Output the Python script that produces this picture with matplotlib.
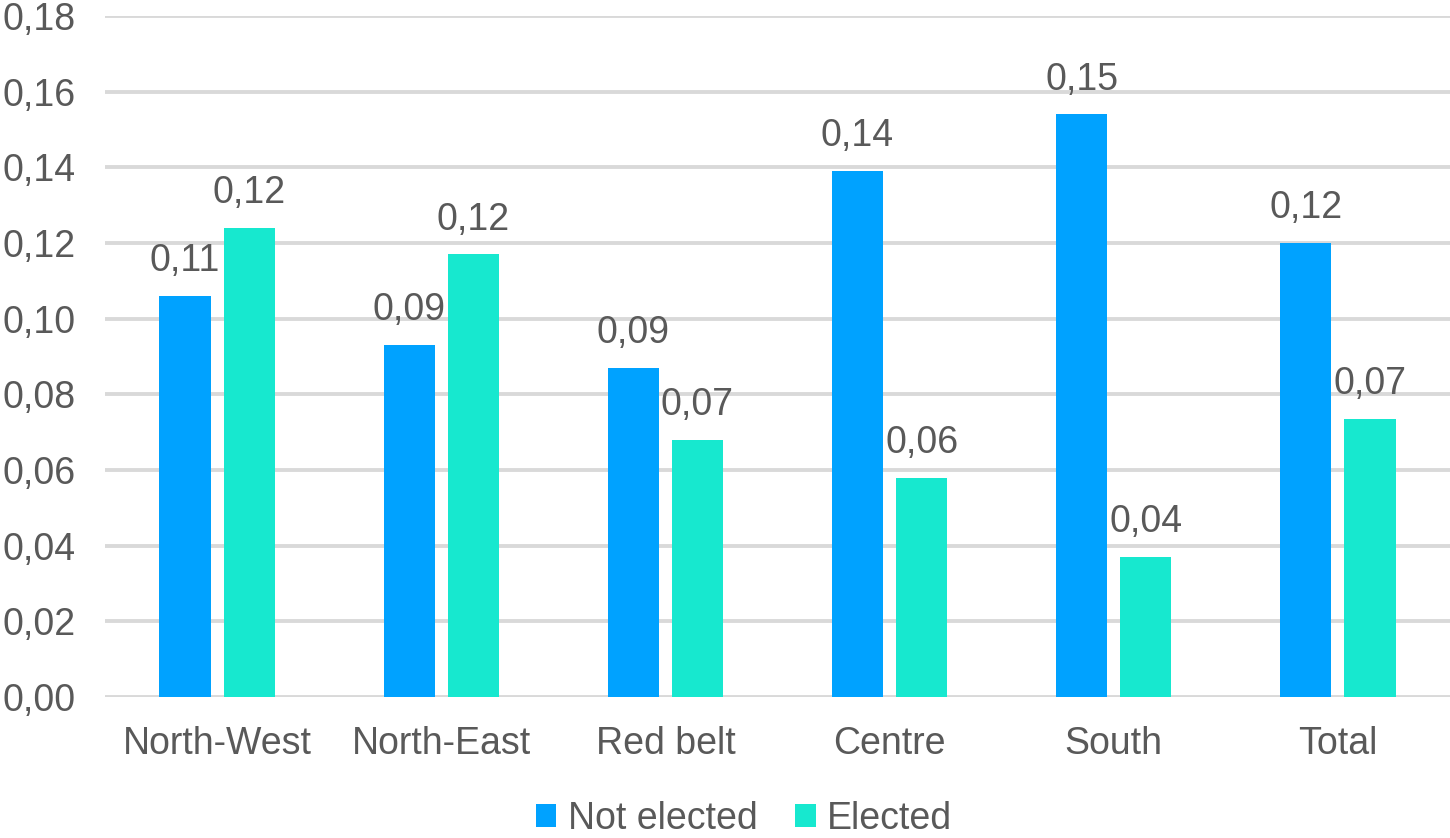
import numpy as np
import matplotlib.pyplot as plt

regions = ['North-West', 'North-East', 'Red belt', 'Centre', 'South', 'Total']
not_elected = [0.106, 0.093, 0.087, 0.139, 0.154, 0.120]
elected = [0.124, 0.117, 0.068, 0.058, 0.037, 0.0735]
yticks = [0.00, 0.02, 0.04, 0.06, 0.08, 0.10, 0.12, 0.14, 0.16, 0.18]

blue = '#00A2FF'
teal = '#17E8CF'
grey_text = '#595959'

plt.rcParams['font.family'] = ['Liberation Sans', 'DejaVu Sans']

fig = plt.figure(figsize=(14.5, 8.38), dpi=100)
ax = fig.add_axes([105 / 1450, 1 - 697 / 838, 1 - 105 / 1450, (697 - 16) / 838])

x = np.arange(len(regions))
w = 0.228
off = 0.143
b1 = ax.bar(x - off, not_elected, w, color=blue, label='Not elected', zorder=3)
b2 = ax.bar(x + off, elected, w, color=teal, label='Elected', zorder=3)

def fmt(v):
    return ('%.2f' % v).replace('.', ',')

for bars, vals in ((b1, not_elected), (b2, elected)):
    for rect, v in zip(bars, vals):
        ax.annotate(fmt(v), (rect.get_x() + rect.get_width() / 2, v),
                    xytext=(0, 12), textcoords='offset points',
                    ha='center', va='bottom', fontsize=27, color=grey_text)

ax.set_xlim(-0.5, 5.5)
ax.set_ylim(0, 0.18)
ax.set_yticks(yticks)
ax.set_yticklabels([fmt(v) for v in yticks])
ax.set_xticks(x)
ax.set_xticklabels(regions)
ax.tick_params(axis='both', length=0, labelsize=27, labelcolor=grey_text)
ax.tick_params(axis='y', pad=21)
ax.tick_params(axis='x', pad=21)
ax.yaxis.grid(True, color='#D9D9D9', linewidth=2.8, zorder=0)
ax.set_axisbelow(True)
for s in ax.spines.values():
    s.set_visible(False)

fig.legend(loc='center', bbox_to_anchor=(0.513, 1 - 819 / 838), ncol=2,
           frameon=False, fontsize=27, labelcolor=grey_text,
           handlelength=0.55, handleheight=0.55, handletextpad=0.3,
           columnspacing=1.0, borderpad=0.1)

fig.savefig('out.png', dpi=100)
